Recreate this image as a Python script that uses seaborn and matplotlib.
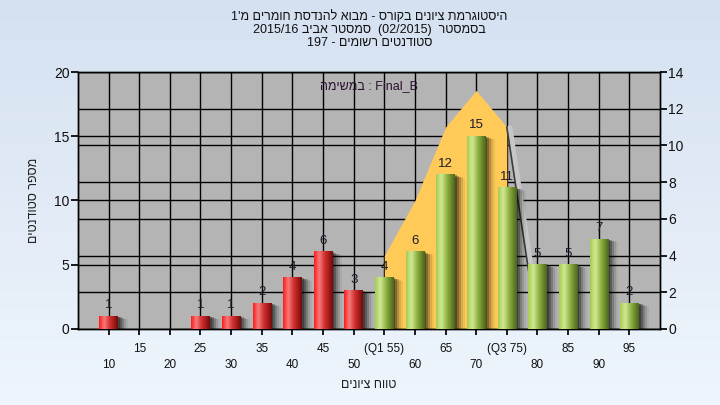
import re
import numpy as np
import pandas as pd
import matplotlib
matplotlib.use('Agg')
import matplotlib.pyplot as plt
import seaborn as sns
from matplotlib.colors import LinearSegmentedColormap
from matplotlib.patches import Rectangle
from matplotlib.transforms import offset_copy

# data
grades = [10, 15, 20, 25, 30, 35, 40, 45, 50, 55, 60, 65, 70, 75, 80, 85, 90, 95]
counts = [1, 0, 0, 1, 1, 2, 4, 6, 3, 4, 6, 12, 15, 11, 5, 5, 7, 2]
pass_grade = 55
q1, q3 = 55, 75
# yellow band (right axis) between the quartiles, then drop line to 80
band_grades = [55, 60, 65, 70, 75]
band_values = [4, 7, 11, 13, 11]
drop_grades = [75, 80]
drop_values = [11, 0]

title_lines = ["היסטוגרמת ציונים בקורס - מבוא להנדסת חומרים מ'1",
               "בסמסטר  (02/2015)  סמסטר אביב 2015/16",
               "סטודנטים רשומים - 197"]
task_label = "Final_B : במשימה"
x_title = "טווח ציונים"
y_title = "מספר סטודנטים"


def heb(s):
    # matplotlib has no bidi: reverse for display, keep numbers/latin runs readable
    out = s[::-1]
    out = re.sub(r"[0-9A-Za-z_/.]+", lambda m: m.group(0)[::-1], out)
    return out.translate(str.maketrans("()", ")("))


tick_labels = []
for g in grades:
    if g == q1:
        tick_labels.append(f"(Q1 {g})")
    elif g == q3:
        tick_labels.append(f"(Q3 {g})")
    else:
        tick_labels.append(str(g))

df = pd.DataFrame({"label": tick_labels, "count": counts,
                   "group": ["fail" if g < pass_grade else "pass" for g in grades]})

sns.set_theme(style="white")
plt.rcParams["font.family"] = ["Liberation Sans", "DejaVu Sans"]

fig = plt.figure(figsize=(7.2, 4.05), dpi=100)

# light blue gradient background
bg = fig.add_axes([0, 0, 1, 1], zorder=-10)
bg_cm = LinearSegmentedColormap.from_list("bg", ["#eef5fc", "#d5e1f1"])
bg.imshow(np.linspace(0, 1, 100)[:, None], cmap=bg_cm, aspect="auto", origin="lower",
          extent=(0, 1, 0, 1))
bg.axis("off")

ax = fig.add_axes([0.1083, 0.1877, 0.8083, 0.6345])
ax2 = ax.twinx()
ax.set_zorder(3)
ax.patch.set_visible(False)
ax2.patch.set_visible(True)
ax2.set_facecolor("#b4b4b4")

sns.barplot(data=df, x="label", y="count", hue="group", order=tick_labels,
            palette={"fail": "#e02020", "pass": "#9cc850"}, dodge=False,
            width=0.6, legend=False, ax=ax, linewidth=0)

red_cm = LinearSegmentedColormap.from_list(
    "red", [(0, "#ff1a1a"), (0.28, "#f47c7c"), (0.55, "#d63232"), (1, "#760a0a")])
green_cm = LinearSegmentedColormap.from_list(
    "green", [(0, "#a4cc52"), (0.28, "#d2ea94"), (0.6, "#8caf40"), (1, "#4a661a")])

for p in list(ax.patches):
    h = p.get_height()
    if not np.isfinite(h) or h <= 0:
        continue
    x0, w = p.get_x(), p.get_width()
    i = int(round(x0 + w / 2))
    cm = red_cm if grades[i] < pass_grade else green_cm
    # soft drop shadow
    for dx, a in [(2, 0.3), (4, 0.25), (6, 0.18), (8, 0.1), (10, 0.06)]:
        tr = offset_copy(ax.transData, fig=fig, x=dx, y=-dx * 0.3, units="dots")
        ax.add_patch(Rectangle((x0, 0), w, h, transform=tr, color="black",
                               alpha=a, lw=0, zorder=1.5))
    ax.imshow(np.linspace(0, 1, 64)[None, :], cmap=cm, aspect="auto",
              extent=(x0, x0 + w, 0, h), origin="lower", zorder=3,
              interpolation="bicubic")
    ax.annotate(str(counts[i]), (i, h), xytext=(0, 3.5), textcoords="offset points",
                ha="center", va="bottom", fontsize=9.5, color="#1c1c2c", zorder=5)

ax.set_xlim(-1, len(grades))
ax.set_ylim(0, 20)
ax2.set_ylim(0, 14)

# quartile band on the right axis
bi = [grades.index(g) for g in band_grades]
ax2.fill_between(bi, band_values, color="#ffca58", lw=0, zorder=2)
di = [grades.index(g) for g in drop_grades]
ax2.plot(di, drop_values, color="#c6c6c6", lw=4, zorder=2,
         transform=offset_copy(ax2.transData, fig=fig, x=3, y=-1, units="dots"))
ax2.plot(di, drop_values, color="#3c3c3c", lw=1.2, zorder=2.1)

# grid: right-axis ticks + left-axis ticks + category lines
ax2.set_yticks(range(0, 15, 2))
ax2.set_yticks([t * 14 / 20 for t in [5, 10, 15]], minor=True)
ax2.grid(which="both", axis="y", color="black", lw=1)
ax2.vlines(range(len(grades)), 0, 14, color="black", lw=1, zorder=1)
ax2.tick_params(axis="y", which="minor", length=0)
ax.grid(False)

ax.set_yticks(range(0, 21, 5))
ax.set_xticks(range(len(grades)))
ax.set_xticklabels([lab if i % 2 else "\n" + lab for i, lab in enumerate(tick_labels)])
for lab in ax.get_xticklabels():
    lab.set_linespacing(1.45)

ax.tick_params(axis="y", length=5, color="black", labelsize=10, labelcolor="#111111",
               left=True, pad=1)
ax2.tick_params(axis="y", which="major", length=5, color="black", labelsize=10,
                labelcolor="#111111", right=True, pad=1)
ax.tick_params(axis="x", length=4, color="black", labelsize=8.5, labelcolor="#111111",
               bottom=True, pad=6)

for a in (ax, ax2):
    for s in a.spines.values():
        s.set_color("black")
        s.set_linewidth(1)

ax.set_xlabel(heb(x_title), fontsize=9, color="#222222", labelpad=6)
ax.set_ylabel(heb(y_title), fontsize=9, color="#222222", labelpad=10)
ax2.set_ylabel("")

ax.text(0.5, 0.945, heb(task_label), transform=ax.transAxes, ha="center",
        va="center", fontsize=9, color="#2a1030", zorder=6)

for k, line in enumerate(title_lines):
    fig.text(0.513, 1 - (17 + 13 * k) / 405, heb(line), ha="center", va="center",
             fontsize=9, color="#111111")

fig.savefig("out.png", dpi=100)
